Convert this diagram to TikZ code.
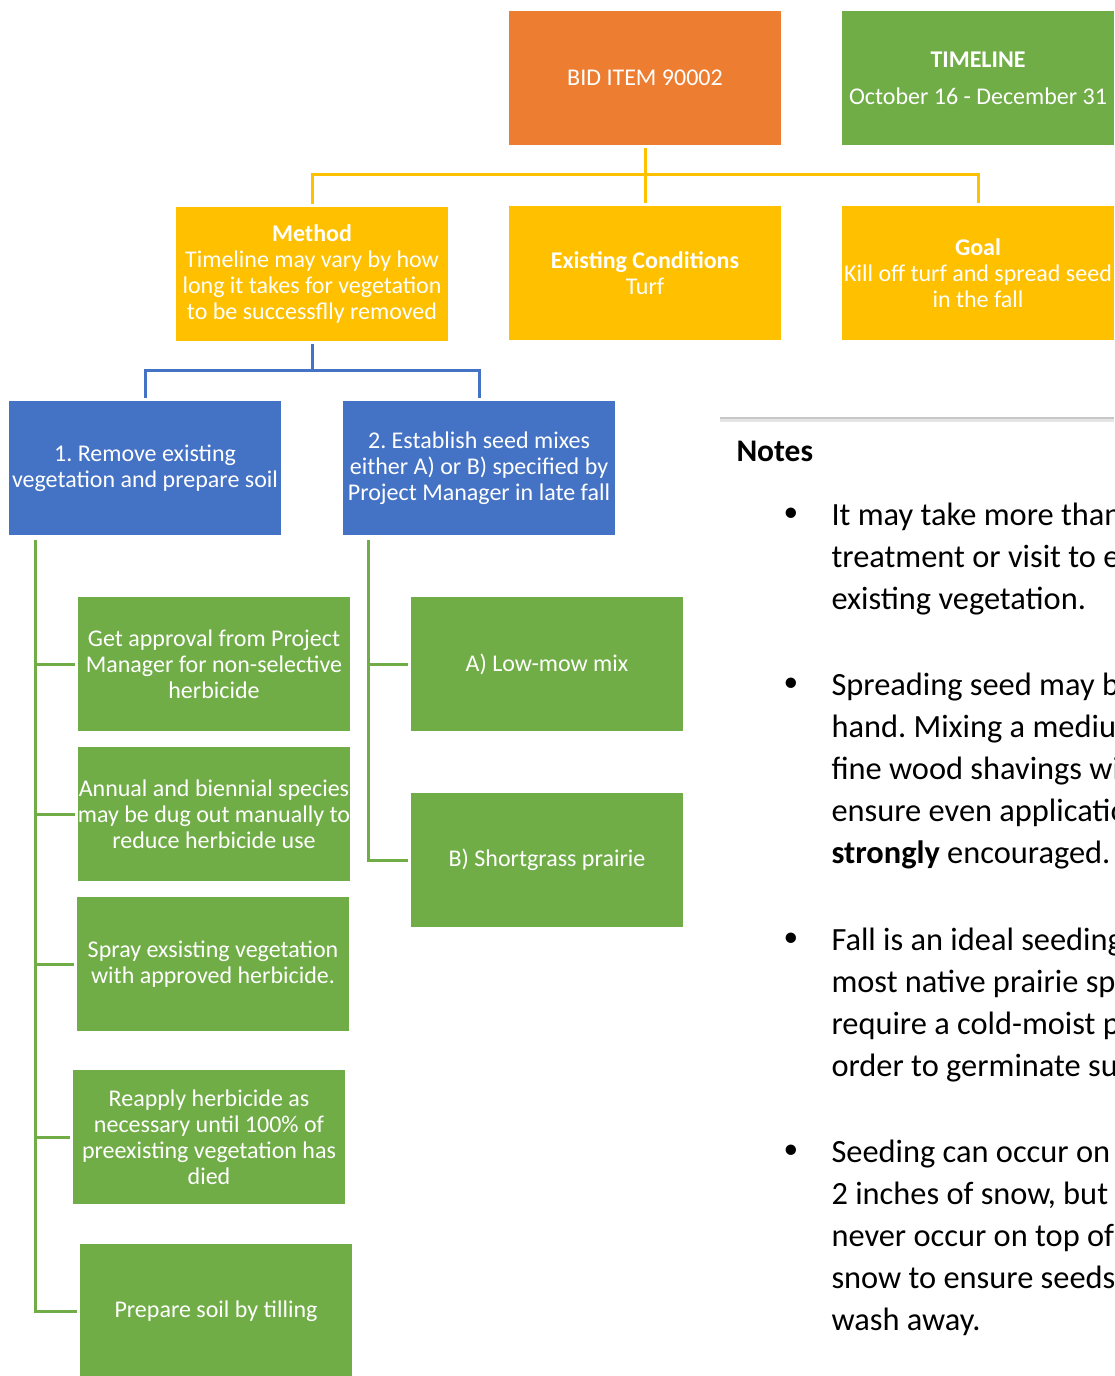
\documentclass[tikz,border=0pt]{standalone}
\usepackage{fontspec}
\setmainfont{Carlito}
\frenchspacing
\definecolor{bidorange}{HTML}{ED7D31}
\definecolor{leafgreen}{HTML}{70AD47}
\definecolor{goldyellow}{HTML}{FFC000}
\definecolor{stepblue}{HTML}{4472C4}
\tikzset{every picture/.style={line width=0.75pt}}
\tikzset{
  chartbox/.style={minimum width=204pt, minimum height=100.5pt, inner sep=0pt,
    align=center, text=white, outer sep=2.25pt,
    font=\fontsize{18}{19.5}\selectfont},
  bidbox/.style={chartbox, fill=bidorange},
  timebox/.style={chartbox, fill=leafgreen, font=\fontsize{18}{28}\selectfont},
  topicbox/.style={chartbox, fill=goldyellow},
  stagebox/.style={chartbox, fill=stepblue},
  taskbox/.style={chartbox, fill=leafgreen},
  yelline/.style={goldyellow, line width=2.25pt},
  blueline/.style={stepblue, line width=2.25pt},
  greenline/.style={leafgreen, line width=2.25pt},
  notetext/.style={anchor=north west, inner sep=0pt, align=left,
    font=\fontsize{24.3}{31.5}\selectfont},
  notedot/.style={inner sep=0pt, font=\fontsize{22}{24}\selectfont}
}

\begin{document}
\begin{tikzpicture}[x=0.75pt,y=0.75pt,yscale=-1,xscale=1]
\path[use as bounding box] (0,0) rectangle (1114,1376);
\clip (0,0) rectangle (1114,1376);

% Top row
\node[bidbox] (bid) at (645,78) {BID ITEM 90002};
\node[timebox] (timeline) at (978,78) {\textbf{TIMELINE}\\October 16 - December 31};

% Second row
\node[topicbox] (method) at (312,274) {\textbf{Method}\\Timeline may vary by how\\long it takes for vegetation\\to be successflly removed};
\node[topicbox] (cond) at (645,273) {\textbf{Existing Conditions}\\Turf};
\node[topicbox] (goal) at (978,273) {\textbf{Goal}\\Kill off turf and spread seed\\in the fall};

% Stages
\node[stagebox] (remove) at (145,468) {1. Remove existing\\vegetation and prepare soil};
\node[stagebox] (seed) at (479,468) {2. Establish seed mixes\\either A) or B) specified by\\Project Manager in late fall};

% Tasks under stage 1
\node[taskbox] (approve) at (214,664) {Get approval from Project\\Manager for non-selective\\herbicide};
\node[taskbox] (annual) at (214,814) {Annual and biennial species\\may be dug out manually to\\reduce herbicide use};
\node[taskbox] (spray) at (213,964) {Spray exsisting vegetation\\with approved herbicide.};
\node[taskbox] (reapply) at (209,1137) {Reapply herbicide as\\necessary until 100\% of\\preexisting vegetation has\\died};
\node[taskbox] (till) at (216,1311) {Prepare soil by tilling};

% Tasks under stage 2
\node[taskbox] (lowmow) at (547,664) {A) Low-mow mix};
\node[taskbox] (shortgrass) at (547,860) {B) Shortgrass prairie};

% Connectors
\coordinate (ybus) at (645,175);
\coordinate (bbus) at (312,370);
\coordinate (lbus) at (35,540);
\coordinate (rbus) at (368,540);
\draw[yelline] (bid.south) -- (ybus);
\draw[yelline] (ybus) -| (method.north);
\draw[yelline] (ybus) -- (cond.north);
\draw[yelline] (ybus) -| (goal.north);
\draw[blueline] (method.south) -- (bbus);
\draw[blueline] (bbus) -| (remove.north);
\draw[blueline] (bbus) -| (seed.north);
\foreach \t in {approve,annual,spray,reapply,till}
  \draw[greenline] (lbus) |- (\t.west);
\foreach \t in {lowmow,shortgrass}
  \draw[greenline] (rbus) |- (\t.west);

% Notes panel
\draw[black!10, line width=3pt] (720,420) -- (1114,420);
\draw[black!22, line width=1pt] (720,418) -- (1114,418);
\node[anchor=west, inner sep=0pt, font=\fontsize{23.6}{24}\selectfont\bfseries] (notes) at (736,451) {Notes};

\node[notedot] (d1) at (791,515) {\textbullet};
\node[notetext] (n1) at (831,502) {It may take more than\\treatment or visit to e\\existing vegetation.};
\node[notedot] (d2) at (791,685) {\textbullet};
\node[notetext] (n2) at (831,672) {Spreading seed may b\\hand. Mixing a mediu\\fine wood shavings wi\\ensure even applicatio\\\textbf{strongly} encouraged.};
\node[notedot] (d3) at (791,940) {\textbullet};
\node[notetext] (n3) at (831,927) {Fall is an ideal seeding\\most native prairie sp\\require a cold-moist p\\order to germinate su};
\node[notedot] (d4) at (791,1152) {\textbullet};
\node[notetext] (n4) at (831,1139) {Seeding can occur on\\2 inches of snow, but\\never occur on top of\\snow to ensure seeds\\wash away.};

\end{tikzpicture}
\end{document}
